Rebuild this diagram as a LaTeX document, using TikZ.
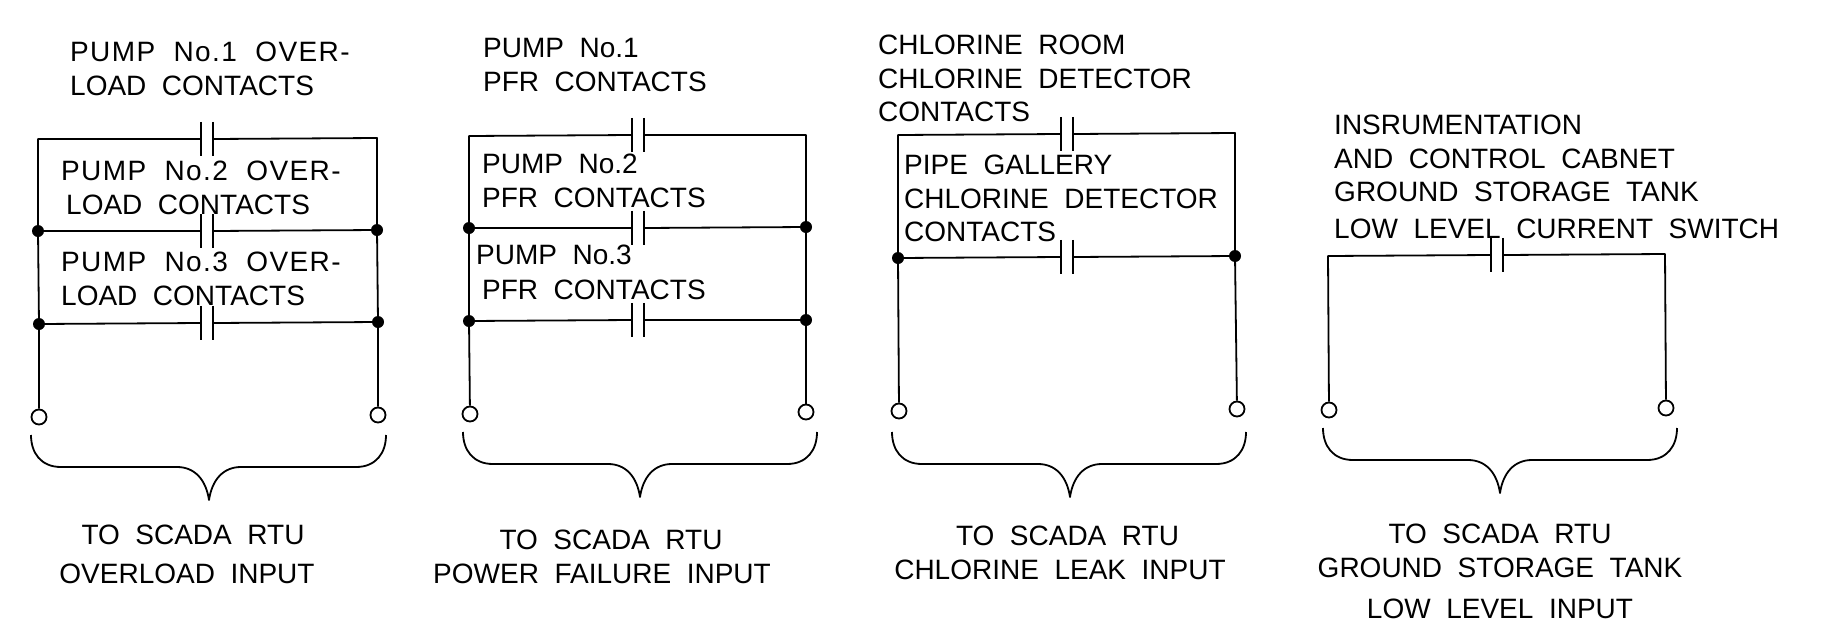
\documentclass[tikz,border=0pt]{standalone}
\usepackage{fontspec}
\setmainfont[WordSpace=2]{Liberation Sans}
\newcommand{\pumpover}[1]{{\addfontfeatures{LetterSpace=5}PUMP No.#1 OVER-}}
\begin{document}
\begin{tikzpicture}[
x=1pt, y=-1pt,
wire/.style={line width=1.8pt, line join=round},
contactnode/.style={minimum width=12pt, minimum height=34pt, inner sep=0pt},
dotnode/.style={circle, fill=black, minimum size=12pt, inner sep=0pt},
termnode/.style={circle, draw, line width=1.8pt, fill=white, minimum size=15pt, inner sep=0pt},
labelleft/.style={anchor=north west, align=left, inner sep=0pt, font=\fontsize{28}{33.5}\selectfont},
labelmid/.style={anchor=north, align=center, inner sep=0pt, font=\fontsize{28}{33.5}\selectfont},
]
\useasboundingbox (0,0) rectangle (1830,627);

%Overload circuit
\coordinate (over_tl) at (38,139);
\coordinate (over_tr) at (377,138);
\node[contactnode] (over_c1) at (207,139) {};
\node[contactnode] (over_c2) at (207,231) {};
\node[contactnode] (over_c3) at (207,323) {};
\node[dotnode] (over_l2) at (38,231) {};
\node[dotnode] (over_r2) at (377,230) {};
\node[dotnode] (over_l3) at (39,324) {};
\node[dotnode] (over_r3) at (378,322) {};
\node[termnode] (over_tml) at (39,417) {};
\node[termnode] (over_tmr) at (378,415) {};

%Power failure circuit
\coordinate (pfr_tl) at (469,136);
\coordinate (pfr_tr) at (806,135);
\node[contactnode] (pfr_c1) at (638,135) {};
\node[contactnode] (pfr_c2) at (638,228) {};
\node[contactnode] (pfr_c3) at (638,320) {};
\node[dotnode] (pfr_l2) at (469,228) {};
\node[dotnode] (pfr_r2) at (806,227) {};
\node[dotnode] (pfr_l3) at (469,321) {};
\node[dotnode] (pfr_r3) at (806,320) {};
\node[termnode] (pfr_tml) at (470,414) {};
\node[termnode] (pfr_tmr) at (806,412) {};

%Chlorine circuit
\coordinate (leak_tl) at (898,135);
\coordinate (leak_tr) at (1235,133);
\node[contactnode] (leak_c1) at (1067,134) {};
\node[contactnode] (leak_c2) at (1067,257) {};
\node[dotnode] (leak_l2) at (898,258) {};
\node[dotnode] (leak_r2) at (1235,256) {};
\node[termnode] (leak_tml) at (899,411) {};
\node[termnode] (leak_tmr) at (1237,409) {};

%Low level circuit
\coordinate (low_tl) at (1328,256);
\coordinate (low_tr) at (1665,254);
\node[contactnode] (low_c1) at (1497,255) {};
\node[termnode] (low_tml) at (1329,410) {};
\node[termnode] (low_tmr) at (1666,408) {};

%Labels
\node[labelleft] (over_t1) at (70,42) {\pumpover{1}\\LOAD CONTACTS};
\node[labelleft] (over_t2) at (61,161) {\pumpover{2}\\\hspace*{5pt}LOAD CONTACTS};
\node[labelleft] (over_t3) at (61,252) {\pumpover{3}\\LOAD CONTACTS};
\node[labelmid] (over_in) at (187,525) {\hspace*{12pt}TO SCADA RTU\\[5pt]OVERLOAD INPUT};
\node[labelleft] (pfr_t1) at (483,38) {PUMP No.1\\[1pt]PFR CONTACTS};
\node[labelleft] (pfr_t2) at (482,154) {PUMP No.2\\PFR CONTACTS};
\node[labelleft] (pfr_t3) at (476,245) {PUMP No.3\\[1pt]\hspace*{6pt}PFR CONTACTS};
\node[labelmid] (pfr_in) at (602,530) {\hspace*{18pt}TO SCADA RTU\\POWER FAILURE INPUT};
\node[labelleft] (leak_t1) at (878,35) {CHLORINE ROOM\\CHLORINE DETECTOR\\CONTACTS};
\node[labelleft] (leak_t2) at (904,155) {PIPE GALLERY\\CHLORINE DETECTOR\\CONTACTS};
\node[labelmid] (leak_in) at (1060,526) {\hspace*{15pt}TO SCADA RTU\\CHLORINE LEAK INPUT};
\node[labelleft] (low_t1) at (1334,115) {INSRUMENTATION\\AND CONTROL CABNET\\GROUND STORAGE TANK\\[3pt]LOW LEVEL CURRENT SWITCH};
\node[labelmid] (low_in) at (1500,524) {TO SCADA RTU\\GROUND STORAGE TANK\\[8pt]LOW LEVEL INPUT};

%Lines
\draw[wire] (over_tml) -- (over_l3) -- (over_l2) -- (over_tl) -- (over_c1.west);
\draw[wire] (over_c1.east) -- (over_tr) -- (over_r2) -- (over_r3) -- (over_tmr);
\draw[wire] (over_l2) -- (over_c2.west);
\draw[wire] (over_c2.east) -- (over_r2);
\draw[wire] (over_l3) -- (over_c3.west);
\draw[wire] (over_c3.east) -- (over_r3);
\draw[wire] (pfr_tml) -- (pfr_l3) -- (pfr_l2) -- (pfr_tl) -- (pfr_c1.west);
\draw[wire] (pfr_c1.east) -- (pfr_tr) -- (pfr_r2) -- (pfr_r3) -- (pfr_tmr);
\draw[wire] (pfr_l2) -- (pfr_c2.west);
\draw[wire] (pfr_c2.east) -- (pfr_r2);
\draw[wire] (pfr_l3) -- (pfr_c3.west);
\draw[wire] (pfr_c3.east) -- (pfr_r3);
\draw[wire] (leak_tml) -- (leak_l2) -- (leak_tl) -- (leak_c1.west);
\draw[wire] (leak_c1.east) -- (leak_tr) -- (leak_r2) -- (leak_tmr);
\draw[wire] (leak_l2) -- (leak_c2.west);
\draw[wire] (leak_c2.east) -- (leak_r2);
\draw[wire] (low_tml) -- (low_tl) -- (low_c1.west);
\draw[wire] (low_c1.east) -- (low_tr) -- (low_tmr);

%Contact plates
\foreach \c in {over_c1,over_c2,over_c3,pfr_c1,pfr_c2,pfr_c3,leak_c1,leak_c2,low_c1}
  \draw[wire] (\c.north west) -- (\c.south west) (\c.north east) -- (\c.south east);

%Braces
\foreach \l/\m/\r/\t in {31/209/386/435, 463/640/817/432, 892/1070/1246/432, 1323/1500/1677/428}
  \draw[wire] (\l,\t) .. controls (\l,\t+18) and (\l+10,\t+32) .. (\l+30,\t+32)
    -- (\m-32,\t+32) .. controls (\m-14,\t+32) and (\m-3,\t+45) .. (\m,\t+65)
    .. controls (\m+3,\t+45) and (\m+14,\t+32) .. (\m+32,\t+32)
    -- (\r-30,\t+32) .. controls (\r-10,\t+32) and (\r,\t+18) .. (\r,\t);

\end{tikzpicture}
\end{document}
